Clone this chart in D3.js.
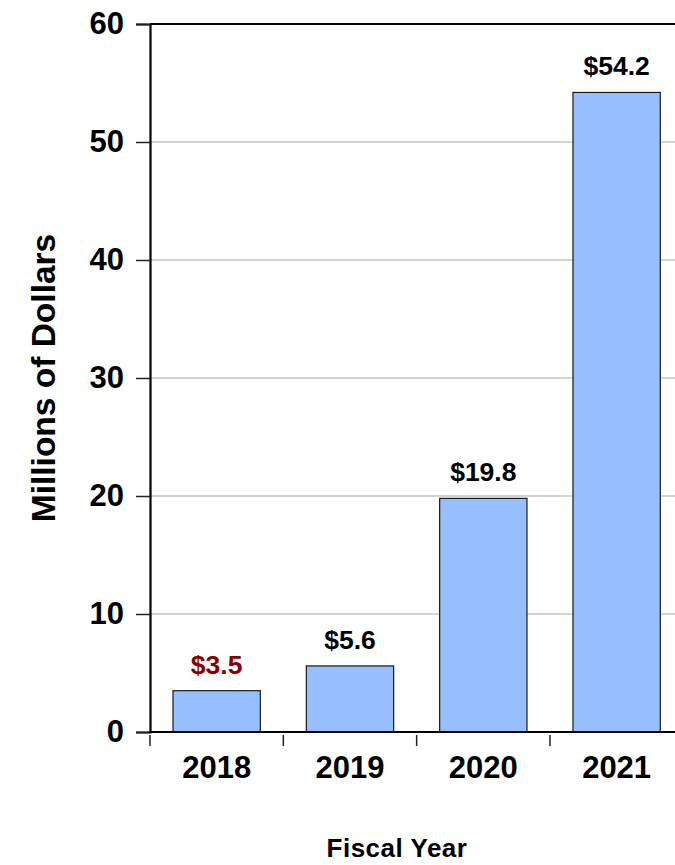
<!DOCTYPE html>
<html>
<head>
<meta charset="utf-8">
<script src="https://cdn.jsdelivr.net/npm/d3@7"></script>
<style>
  html, body { margin: 0; padding: 0; background: #fff; }
  svg { display: block; font-family: "Liberation Sans", Arial, sans-serif; font-weight: bold; }
</style>
</head>
<body>
<svg id="chart" width="675" height="865"></svg>
<script>
// Fiscal year spending, millions of dollars
const years = ["2018", "2019", "2020", "2021"];
const amounts = [3.5, 5.6, 19.8, 54.2];
const valueLabels = ["$3.5", "$5.6", "$19.8", "$54.2"];
const labelColors = ["#8b0000", "#000", "#000", "#000"];
const yTicks = [0, 10, 20, 30, 40, 50, 60];

const svg = d3.select("#chart");
const plotLeft = 150, plotRight = 683.3, plotTop = 24, plotBottom = 732;

const x = d3.scaleBand()
  .domain(years)
  .range([plotLeft, plotRight])
  .paddingInner(0.345)
  .paddingOuter(0.1725);

const y = d3.scaleLinear().domain([0, 60]).range([plotBottom, plotTop]);

// horizontal gridlines
svg.append("g")
  .selectAll("line")
  .data(yTicks.filter(t => t > 0 && t < 60))
  .join("line")
  .attr("x1", plotLeft).attr("x2", plotRight)
  .attr("y1", d => y(d)).attr("y2", d => y(d))
  .attr("stroke", "#d4d4d4")
  .attr("stroke-width", 2);

// top frame line
svg.append("line")
  .attr("x1", plotLeft).attr("x2", plotRight)
  .attr("y1", y(60)).attr("y2", y(60))
  .attr("stroke", "#000").attr("stroke-width", 2);

// bars
svg.append("g")
  .selectAll("rect")
  .data(years.map((yr, i) => ({ yr, v: amounts[i] })))
  .join("rect")
  .attr("x", d => x(d.yr))
  .attr("width", x.bandwidth())
  .attr("y", d => y(d.v))
  .attr("height", d => y(0) - y(d.v))
  .attr("fill", "#97bffd")
  .attr("stroke", "#1a1a1a")
  .attr("stroke-width", 1.2);

// value labels
svg.append("g")
  .selectAll("text")
  .data(years.map((yr, i) => ({ yr, v: amounts[i], t: valueLabels[i], c: labelColors[i] })))
  .join("text")
  .attr("x", d => x(d.yr) + x.bandwidth() / 2)
  .attr("y", d => y(d.v) - 17)
  .attr("text-anchor", "middle")
  .attr("font-size", 26.5)
  .attr("fill", d => d.c)
  .text(d => d.t);

// y axis
const yAxis = d3.axisLeft(y).tickValues(yTicks).tickSize(14).tickPadding(12);
const gy = svg.append("g").attr("transform", `translate(${plotLeft},0)`).call(yAxis);
gy.select(".domain").attr("stroke", "#000").attr("stroke-width", 2.2);
gy.selectAll(".tick line").attr("stroke", "#222").attr("stroke-width", 1.5);
gy.selectAll(".tick text")
  .attr("font-size", 31)
  .attr("font-family", "'Liberation Sans', Arial, sans-serif")
  .attr("font-weight", "bold")
  .attr("fill", "#000");

// x axis baseline
svg.append("line")
  .attr("x1", plotLeft - 1).attr("x2", plotRight)
  .attr("y1", plotBottom).attr("y2", plotBottom)
  .attr("stroke", "#000").attr("stroke-width", 2.2);

// x category boundary ticks
svg.append("g")
  .selectAll("line")
  .data(years.map((yr, i) => plotLeft + i * x.step()))
  .join("line")
  .attr("x1", d => d).attr("x2", d => d)
  .attr("y1", plotBottom + 3).attr("y2", plotBottom + 14)
  .attr("stroke", "#222").attr("stroke-width", 1.5);

// x tick labels
svg.append("g")
  .selectAll("text")
  .data(years)
  .join("text")
  .attr("x", d => x(d) + x.bandwidth() / 2)
  .attr("y", 778)
  .attr("text-anchor", "middle")
  .attr("font-size", 31)
  .text(d => d);

// axis titles
svg.append("text")
  .attr("transform", `translate(55,${(plotTop + plotBottom) / 2}) rotate(-90)`)
  .attr("text-anchor", "middle")
  .attr("font-size", 33.5)
  .text("Millions of Dollars");

svg.append("text")
  .attr("x", 397)
  .attr("y", 857)
  .attr("text-anchor", "middle")
  .attr("font-size", 26)
  .attr("letter-spacing", 0.5)
  .text("Fiscal Year");
</script>
</body>
</html>
